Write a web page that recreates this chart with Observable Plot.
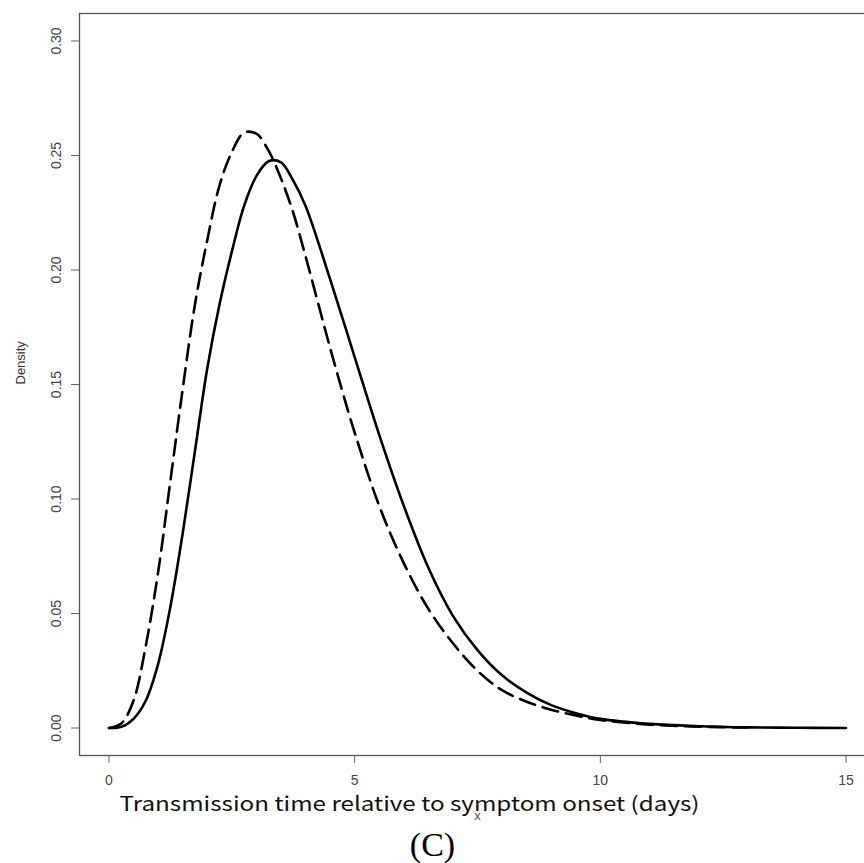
<!DOCTYPE html>
<html>
<head>
<meta charset="utf-8">
<script src="https://cdn.jsdelivr.net/npm/d3@7"></script>
<script src="https://cdn.jsdelivr.net/npm/@observablehq/plot@0.6"></script>
<style>
  html, body { margin: 0; padding: 0; background: #fff; }
  #chart { width: 864px; height: 863px; overflow: hidden; }
</style>
</head>
<body>
<div id="chart"></div>
<script>
// Solid curve
const solidX = [0, 0.25, 0.5, 0.75, 1.0, 1.25, 1.5, 1.75, 2.0, 2.25, 2.5, 2.75, 3.0, 3.25, 3.5, 3.75, 4.0, 4.5, 5.0, 5.5, 6.0, 6.5, 7.0, 7.5, 8.0, 8.5, 9.0, 9.5, 10, 11, 12, 13, 14, 15];
const solidY = [0, 0.0005, 0.004, 0.012, 0.028, 0.053, 0.085, 0.121, 0.157, 0.185, 0.208, 0.228, 0.241, 0.2475, 0.247, 0.239, 0.228, 0.196, 0.162, 0.128, 0.097, 0.070, 0.049, 0.034, 0.023, 0.0155, 0.010, 0.0065, 0.004, 0.0018, 0.0008, 0.0003, 0.0001, 0];
// Dashed curve
const dashX = [0, 0.25, 0.5, 0.75, 1.0, 1.25, 1.5, 1.75, 2.0, 2.25, 2.5, 2.75, 3.0, 3.25, 3.5, 3.75, 4.0, 4.25, 4.5, 4.75, 5.0, 5.5, 6.0, 6.5, 7.0, 7.5, 8.0, 8.5, 9.0, 9.5, 10, 11, 12, 13];
const dashY = [0, 0.002, 0.012, 0.036, 0.068, 0.108, 0.148, 0.185, 0.213, 0.237, 0.2515, 0.2600, 0.2595, 0.252, 0.240, 0.225, 0.206, 0.186, 0.166, 0.147, 0.129, 0.097, 0.072, 0.052, 0.037, 0.025, 0.0165, 0.0115, 0.008, 0.0055, 0.0035, 0.0015, 0.0006, 0.0002];
// Ticks and labels
const xTicks = [0, 5, 10, 15];
const yTicks = [0, 0.05, 0.10, 0.15, 0.20, 0.25, 0.30];
const xLabel = "Transmission time relative to symptom onset (days)";
const xDefault = "x";
const yLabel = "Density";
const panel = "(C)";

const solid = solidX.map((x, i) => ({x, y: solidY[i]}));
const dashed = dashX.map((x, i) => ({x, y: dashY[i]}));

const plot = Plot.plot({
  width: 864,
  height: 863,
  marginLeft: 79,
  marginRight: -11,
  marginTop: 13,
  marginBottom: 108,
  style: {background: "#fff", fontFamily: "'Liberation Sans', Arial, sans-serif"},
  x: {domain: [-0.6, 15.6]},
  y: {domain: [-0.012, 0.312]},
  marks: [
    Plot.frame({stroke: "#555", strokeWidth: 1.3}),
    Plot.axisX({ticks: xTicks, tickFormat: d => String(d), tickSize: 8, tickPadding: 12, fontSize: 14, stroke: "#666", color: "#444", label: null}),
    Plot.axisY({ticks: yTicks, tickFormat: d3.format(".2f"), tickSize: 8, tickPadding: 11, tickRotate: -90, fontSize: 14, stroke: "#666", color: "#444", label: null}),
    Plot.line(solid, {x: "x", y: "y", stroke: "#000", strokeWidth: 2.6, curve: "catmull-rom"}),
    Plot.line(dashed, {x: "x", y: "y", stroke: "#000", strokeWidth: 2.6, strokeDasharray: "16,8", curve: "catmull-rom"}),
    Plot.text([yLabel], {text: d => d, frameAnchor: "left", dx: -59, rotate: -90, fontSize: 13, fill: "#333"}),
    Plot.text([xLabel], {text: d => d, frameAnchor: "bottom", dx: -68, dy: 55, fontSize: 20, fill: "#111", fontFamily: "'Noto Sans CJK JP', 'Liberation Sans', sans-serif"}),
    Plot.text([xDefault], {text: d => d, frameAnchor: "bottom", dx: 0, dy: 64, fontSize: 13, fill: "#555"}),
    Plot.text([panel], {text: d => d, frameAnchor: "bottom", dx: -45, dy: 100, fontSize: 34, fill: "#000", fontFamily: "'Liberation Serif', 'Times New Roman', serif"})
  ]
});

d3.select(plot).selectAll("text").each(function() {
  const t = this.textContent;
  if (t === xLabel) { this.setAttribute("textLength", 580); this.setAttribute("lengthAdjust", "spacingAndGlyphs"); }
});

document.getElementById("chart").appendChild(plot);
</script>
</body>
</html>
